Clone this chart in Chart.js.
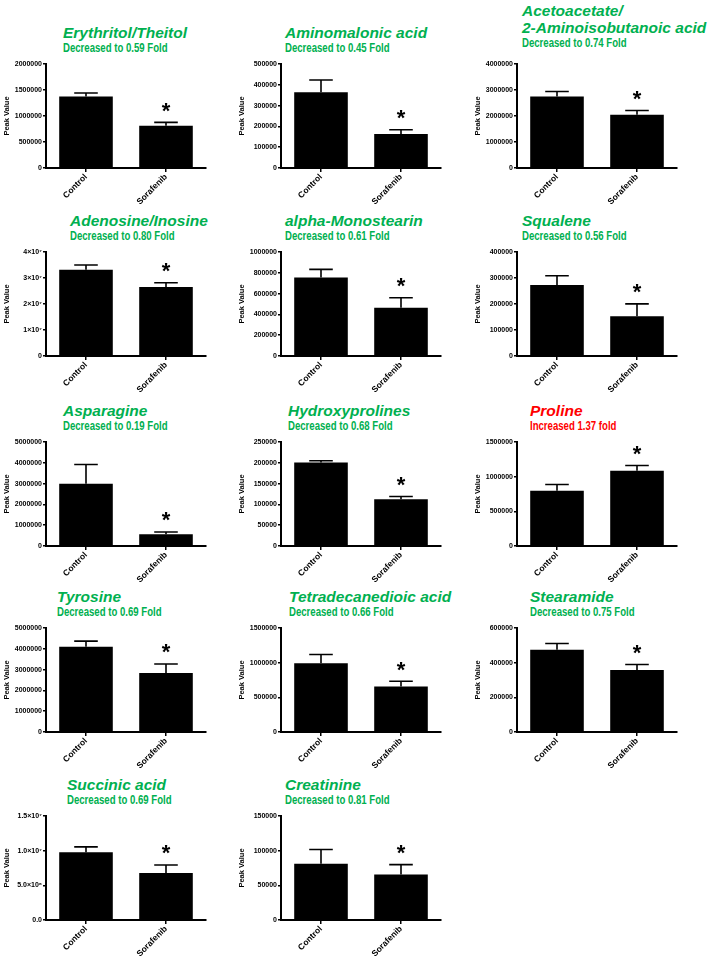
<!DOCTYPE html>
<html>
<head>
<meta charset="utf-8">
<script src="https://cdn.jsdelivr.net/npm/chart.js"></script>
<style>
  html, body { margin: 0; padding: 0; background: #fff; }
  #page { position: relative; width: 709px; height: 956px; overflow: hidden; }
  .panel { position: absolute; }
  .head { position: absolute; white-space: nowrap; }
  .head .t { font: italic bold 15.5px "Liberation Sans", Arial, sans-serif; line-height: 17px; white-space: pre; }
  .head .s { font: bold 12px "Liberation Sans", Arial, sans-serif; line-height: 14px;
             transform: scaleX(0.8); transform-origin: 0 50%; }
</style>
</head>
<body>
<div id="page"></div>
<script>
// values
var groups = ["Control", "Sorafenib"];
var titles = [
    "Erythritol/Theitol", "Aminomalonic acid", "Acetoacetate/\n2-Aminoisobutanoic acid",
    "Adenosine/Inosine", "alpha-Monostearin", "Squalene",
    "Asparagine", "Hydroxyprolines", "Proline",
    "Tyrosine", "Tetradecanedioic acid", "Stearamide",
    "Succinic acid", "Creatinine"
];
var subtitles = [
    "Decreased to 0.59 Fold", "Decreased to 0.45 Fold", "Decreased to 0.74 Fold",
    "Decreased to 0.80 Fold", "Decreased to 0.61 Fold", "Decreased to 0.56 Fold",
    "Decreased to 0.19 Fold", "Decreased to 0.68 Fold", "Increased 1.37 fold",
    "Decreased to 0.69 Fold", "Decreased to 0.66 Fold", "Decreased to 0.75 Fold",
    "Decreased to 0.69 Fold", "Decreased to 0.81 Fold"
];
var increased = [false, false, false, false, false, false, false, false, true, false, false, false, false, false];
var controlMean = [1377000, 363800, 2748000, 33200000, 756000, 272700, 2990000, 200900, 795800, 4097000, 992000, 474000, 9770000, 81300];
var controlErr  = [65000, 59200, 192000, 1800000, 77000, 36000, 930000, 4100, 91700, 273000, 126000, 37000, 780000, 20300];
var sorafMean   = [813000, 163500, 2045000, 26540000, 463000, 153000, 563000, 112500, 1085000, 2840000, 658000, 358000, 6770000, 65800];
var sorafErr    = [64000, 20500, 165000, 1660000, 97000, 47600, 112000, 6500, 77000, 430000, 73000, 31000, 1170000, 14000];
var yMax  = [2000000, 500000, 4000000, 40000000, 1000000, 400000, 5000000, 250000, 1500000, 5000000, 1500000, 600000, 15000000, 150000];
var yStep = [500000, 100000, 1000000, 10000000, 200000, 100000, 1000000, 50000, 500000, 1000000, 500000, 200000, 5000000, 50000];
var tickStyle = ["plain", "plain", "plain", "sci", "plain", "plain", "plain", "plain", "plain", "plain", "plain", "plain", "sci1", "plain"];

// layout
var colAxisX = [46, 281, 517];
var rowPlotTop = [64, 252, 442, 628, 816];
var titleLeft = [63, 285, 522, 70, 285, 522, 63, 288, 530, 57, 289, 530, 67, 285];
var FONT = '"Liberation Sans", Arial, sans-serif';

var SUP = {"0": "\u2070", "1": "\u00b9", "2": "\u00b2", "3": "\u00b3", "4": "\u2074", "5": "\u2075", "6": "\u2076", "7": "\u2077", "8": "\u2078", "9": "\u2079"};

function fmtTick(v, style) {
    if (style === "plain") return String(v);
    if (v === 0) return style === "sci1" ? "0.0" : "0";
    var e = Math.floor(Math.log10(v) + 1e-9);
    var m = v / Math.pow(10, e);
    var ms = style === "sci1" ? m.toFixed(1) : String(Math.round(m));
    var es = String(e).split("").map(function (c) { return SUP[c]; }).join("");
    return ms + "\u00d710" + es;
}

// error bars + asterisk, placed through the y scale
var errPlugin = {
    id: "errbars",
    afterDatasetsDraw: function (chart, args, opts) {
        var ctx = chart.ctx, y = chart.scales.y;
        var meta = chart.getDatasetMeta(0);
        var vals = chart.data.datasets[0].data;
        ctx.save();
        ctx.strokeStyle = "#000";
        ctx.lineWidth = 1.6;
        meta.data.forEach(function (bar, i) {
            var yTop = y.getPixelForValue(vals[i] + opts.err[i]);
            var yBase = y.getPixelForValue(vals[i]);
            var half = bar.width * 0.22;
            ctx.beginPath();
            ctx.moveTo(bar.x, yBase);
            ctx.lineTo(bar.x, yTop);
            ctx.moveTo(bar.x - half, yTop);
            ctx.lineTo(bar.x + half, yTop);
            ctx.stroke();
            if (i === opts.star) {
                ctx.fillStyle = "#000";
                ctx.font = "bold 22px " + FONT;
                ctx.textAlign = "center";
                ctx.textBaseline = "alphabetic";
                var m = ctx.measureText("*");
                var cy = yTop - 15;
                ctx.fillText("*", bar.x, cy + (m.actualBoundingBoxAscent - m.actualBoundingBoxDescent) / 2);
            }
        });
        ctx.restore();
    }
};

var page = document.getElementById("page");

titles.forEach(function (title, i) {
    var row = Math.floor(i / 3), col = i % 3;
    var axisX = colAxisX[col], plotTop = rowPlotTop[row];

    var head = document.createElement("div");
    head.className = "head";
    head.style.left = titleLeft[i] + "px";
    var lift = title.indexOf("\n") >= 0 ? 5 : 0;
    head.style.bottom = (956 - (plotTop - 9 - lift)) + "px";
    head.style.color = increased[i] ? "#ff0000" : "#00b050";
    head.innerHTML = '<div class="t"></div><div class="s"></div>';
    head.querySelector(".t").textContent = title;
    head.querySelector(".s").textContent = subtitles[i];
    page.appendChild(head);

    var cv = document.createElement("canvas");
    cv.className = "panel";
    cv.width = 228;
    cv.height = 158;
    cv.style.left = (axisX - 46) + "px";
    cv.style.top = (plotTop - 14) + "px";
    page.appendChild(cv);

    new Chart(cv, {
        type: "bar",
        data: {
            labels: groups,
            datasets: [{
                data: [controlMean[i], sorafMean[i]],
                backgroundColor: "#000",
                borderWidth: 0,
                barPercentage: 0.67,
                categoryPercentage: 1
            }]
        },
        options: {
            responsive: false,
            animation: false,
            layout: { padding: { top: 14, right: 22, left: 0, bottom: 0 } },
            plugins: {
                legend: { display: false },
                tooltip: { enabled: false },
                errbars: { err: [controlErr[i], sorafErr[i]], star: 1 }
            },
            scales: {
                x: {
                    grid: { drawOnChartArea: false, offset: false, tickLength: 4, color: "#000", lineWidth: 1.5 },
                    border: { color: "#000", width: 2 },
                    ticks: {
                        color: "#000",
                        font: { family: FONT, weight: "bold", size: 8.5 },
                        minRotation: 45, maxRotation: 45, padding: 0
                    },
                    afterFit: function (s) { s.height = 40; }
                },
                y: {
                    min: 0, max: yMax[i],
                    ticks: {
                        stepSize: yStep[i],
                        color: "#000",
                        font: { family: FONT, weight: "bold", size: 7 },
                        padding: 1,
                        callback: function (v) { return fmtTick(v, tickStyle[i]); }
                    },
                    grid: { drawOnChartArea: false, tickLength: 3, color: "#000", lineWidth: 1.5 },
                    border: { color: "#000", width: 2 },
                    title: {
                        display: true, text: "Peak Value", color: "#000", padding: { top: 2, bottom: 0 },
                        font: { family: FONT, weight: "bold", size: 7.5 }
                    },
                    afterFit: function (s) { s.width = 46; }
                }
            }
        },
        plugins: [errPlugin]
    });
});
</script>
</body>
</html>
